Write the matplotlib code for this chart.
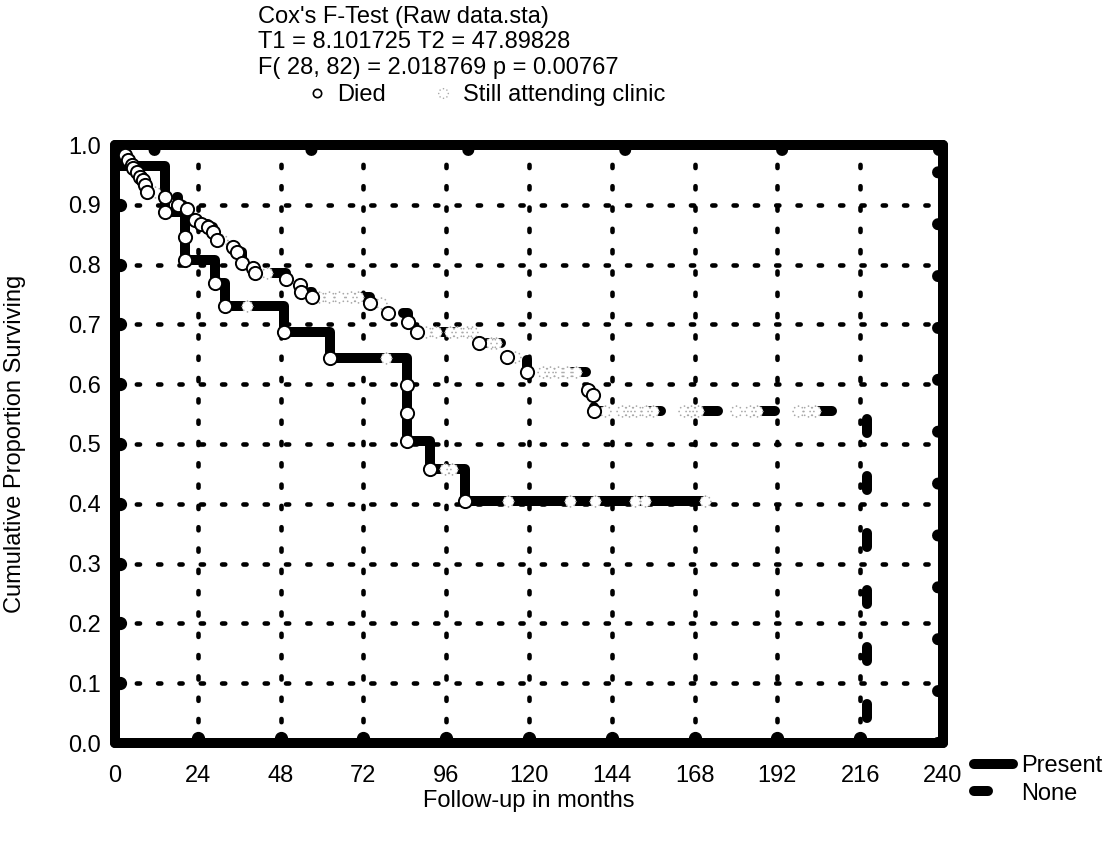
import numpy as np
import matplotlib
matplotlib.use("Agg")
import matplotlib.pyplot as plt
from matplotlib.lines import Line2D
from matplotlib.path import Path

plt.rcParams['font.family'] = ['Liberation Sans', 'DejaVu Sans']
plt.rcParams['font.size'] = 17

# --- data (months, cumulative proportion surviving) ---
present_step_t = [0, 14.5, 20.3, 29.0, 31.8, 49.0, 62.3, 84.5, 91.3, 101.4, 171.0]
present_step_s = [0.965, 0.888, 0.808, 0.769, 0.731, 0.687, 0.644, 0.505, 0.459, 0.404, 0.404]

present_died_t = [14.5, 20.3, 20.3, 29.0, 31.8, 49.0, 62.3, 84.5, 84.5, 84.5, 91.3, 101.4]
present_died_s = [0.888, 0.846, 0.808, 0.769, 0.731, 0.687, 0.644, 0.599, 0.552, 0.505, 0.459, 0.404]

present_cens_t = [38.3, 78.5, 95.7, 97.7, 114.0, 132.0, 139.0, 150.6, 153.5, 171.0]
present_cens_s = [0.731, 0.644, 0.459, 0.459, 0.404, 0.404, 0.404, 0.404, 0.404, 0.404]

none_died_t = [2.9, 3.8, 4.9, 5.2, 6.4, 7.2, 8.1, 8.7, 9.3, 14.5, 18.3, 20.9, 23.2, 25.0,
               27.0, 28.4, 29.6, 34.2, 35.4, 36.8, 40.0, 40.6, 49.6, 53.6, 53.8, 57.1,
               73.9, 79.1, 84.9, 87.5, 105.5, 113.6, 119.4, 137.1, 138.6, 138.8]
none_died_s = [0.983, 0.975, 0.967, 0.962, 0.955, 0.946, 0.941, 0.933, 0.921, 0.913, 0.900,
               0.893, 0.875, 0.868, 0.863, 0.855, 0.841, 0.829, 0.821, 0.803, 0.794, 0.786,
               0.776, 0.766, 0.754, 0.746, 0.736, 0.719, 0.704, 0.687, 0.669, 0.645, 0.620,
               0.590, 0.582, 0.555]
none_end_t = 218.0

none_cens_t = [11.5, 31.0, 37.5, 44.0, 59.0, 62.0, 65.0, 68.5, 70.5, 77.0, 90.0, 93.0, 97.0,
               99.0, 102.0, 103.5, 109.0, 110.5, 116.0, 124.0, 126.0, 128.5, 131.0, 133.5,
               142.0, 147.0, 149.0, 151.0, 154.0, 156.0, 165.0, 167.0, 169.0, 180.0, 184.0,
               186.0, 198.0, 201.0, 203.0]
none_cens_s = [0.921, 0.841, 0.803, 0.786, 0.746, 0.746, 0.746, 0.746, 0.746, 0.736, 0.687,
               0.687, 0.687, 0.687, 0.687, 0.687, 0.669, 0.669, 0.645, 0.620, 0.620, 0.620,
               0.620, 0.620, 0.555, 0.555, 0.555, 0.555, 0.555, 0.555, 0.555, 0.555, 0.555,
               0.555, 0.555, 0.555, 0.555, 0.555, 0.555]

x_ticks = np.arange(0, 241, 24)
y_ticks = np.round(np.arange(0, 1.01, 0.1), 1)

title_lines = ["Cox's F-Test (Raw data.sta)",
               "T1 = 8.101725 T2 = 47.89828",
               "F( 28, 82) = 2.018769 p = 0.00767"]

# small ring of dots used for the censored ("still attending") symbol
ang = np.linspace(0, 2 * np.pi, 9)[:-1]
cens_marker = Path.make_compound_path(*[Path.circle((np.cos(a), np.sin(a)), 0.16) for a in ang])

fig = plt.figure(figsize=(11.13, 8.41), dpi=100)
ax = fig.add_axes([115 / 1113, 98 / 841, 828 / 1113, 598 / 841])

# dotted grid
ax.set_xticks(x_ticks)
ax.set_yticks(y_ticks)
ax.grid(True, color='black', linestyle=(0, (0.7, 3.95)), linewidth=3.3,
        dash_capstyle='round', zorder=0)
ax.set_axisbelow(True)

# round bumps along the frame
ax.plot(x_ticks[1:-1], np.full(len(x_ticks) - 2, 0.0084), 'o', color='black', ms=8.5, zorder=1)
ax.plot(np.full(len(y_ticks) - 2, 1.45), y_ticks[1:-1], 'o', color='black', ms=8.5, zorder=1)
ax.axhline(0.9916, color='black', lw=8.6, linestyle=(9.83, (0.01, 13.125)),
           dash_capstyle='round', zorder=1)
ax.axvline(238.55, color='black', lw=8.6, linestyle=(0, (0.01, 4.333)),
           dash_capstyle='round', zorder=1)

# survival curves
ax.plot(present_step_t, present_step_s, drawstyle='steps-post', color='black', lw=7.2,
        solid_joinstyle='round', solid_capstyle='round', zorder=3)
none_t = [0] + none_died_t + [none_end_t]
none_s = [1.0] + none_died_s + [0.0]
ax.plot(none_t, none_s, drawstyle='steps-post', color='black', lw=7.2,
        linestyle=(0, (1.4, 4.3)), dash_capstyle='round', zorder=3)

# censored marks: white blob with a ring of grey dots
for ct, cs in [(present_cens_t, present_cens_s), (none_cens_t, none_cens_s)]:
    ax.plot(ct, cs, 'o', ls='none', mfc='white', mec='none', ms=8, zorder=4)
    ax.plot(ct, cs, marker=cens_marker, ls='none', mfc='#a8a8a8', mec='none', ms=9, zorder=4)

# died marks
for dt, ds in [(present_died_t, present_died_s), (none_died_t, none_died_s)]:
    ax.plot(dt, ds, 'o', ls='none', mfc='white', mec='black', mew=1.4, ms=9.5, zorder=5)

ax.set_xlim(0, 240)
ax.set_ylim(0, 1.0)
ax.set_yticklabels([f"{v:.1f}" for v in y_ticks])
ax.tick_params(length=0)
ax.tick_params(axis='x', pad=16)
ax.tick_params(axis='y', pad=10)
for sp in ax.spines.values():
    sp.set_linewidth(7.2)
    sp.set_capstyle('round')

fig.text(529 / 1113, 1 - 801 / 841, "Follow-up in months", ha='center', va='center')
fig.text(15 / 1113, 1 - 444 / 841, "Cumulative Proportion Surviving", rotation=90,
         ha='center', va='center')

for i, line in enumerate(title_lines):
    fig.text(258 / 1113, 1 - (17 + 25.5 * i) / 841, line, ha='left', va='center')

# top legend (symbols)
h_died = Line2D([], [], marker='o', ls='none', mfc='white', mec='black', mew=1.2, ms=6)
h_cens = Line2D([], [], marker=cens_marker, ls='none', mfc='#a8a8a8', mec='none', ms=8)
fig.legend([h_died, h_cens], ["Died", "Still attending clinic"], ncol=2,
           loc='center left', bbox_to_anchor=(296 / 1113, 1 - 95 / 841),
           frameon=False, borderpad=0, handlelength=0.8, handletextpad=0.45,
           columnspacing=2.0)

# bottom-right legend (line styles)
h_pres = Line2D([], [], color='black', lw=7.2, solid_capstyle='round')
h_none = Line2D([], [], color='black', lw=7.2, linestyle=(0, (1.4, 4.3)), dash_capstyle='round')
fig.legend([h_pres, h_none], ["Present", "None"], loc='upper left',
           bbox_to_anchor=(962 / 1113, 1 - 743 / 841), frameon=False, borderpad=0,
           handlelength=1.65, handletextpad=0.35, labelspacing=0.25)

fig.savefig("out.png", dpi=100)
